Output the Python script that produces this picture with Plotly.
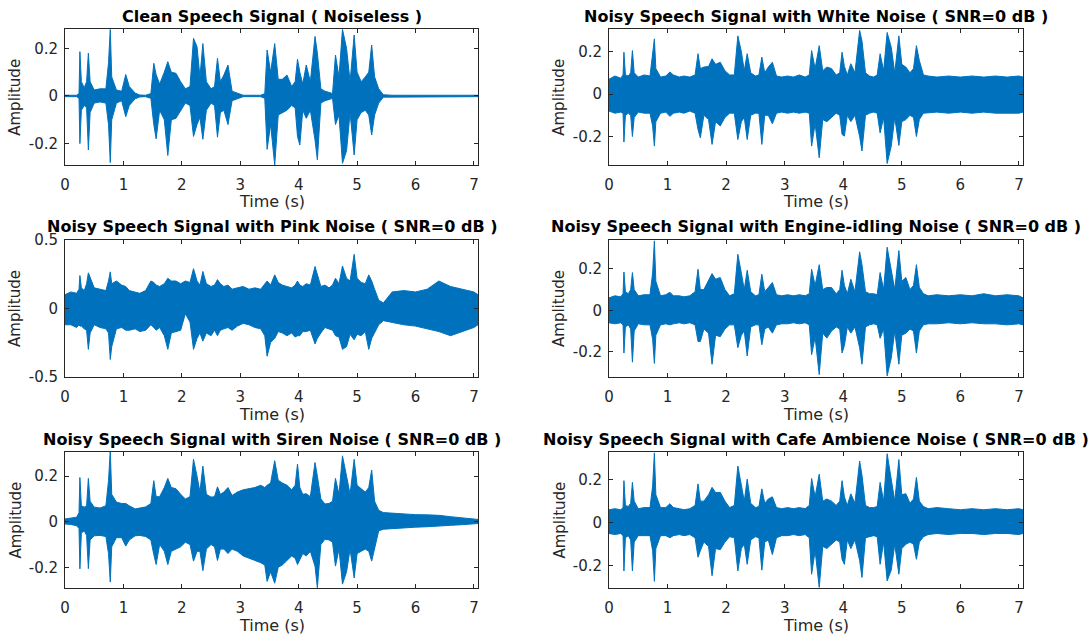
import plotly.graph_objects as go

# ---------------- data (envelopes) ----------------
time_s = [0.00, 0.10, 0.20, 0.24, 0.255, 0.28, 0.33, 0.37, 0.40, 0.43,
          0.50, 0.60, 0.70, 0.745, 0.775, 0.80, 0.88, 0.97, 1.04, 1.10,
          1.20, 1.28, 1.38, 1.47, 1.52, 1.56, 1.62, 1.70, 1.76, 1.82,
          1.90, 1.98, 2.06, 2.14, 2.20, 2.26, 2.31, 2.36, 2.42, 2.50,
          2.56, 2.61, 2.66, 2.72, 2.79, 2.86, 2.95, 3.05, 3.15, 3.25,
          3.35, 3.42, 3.46, 3.52, 3.59, 3.65, 3.72, 3.80, 3.88, 3.94,
          3.98, 4.02, 4.07, 4.13, 4.20, 4.28, 4.32, 4.38, 4.45, 4.52,
          4.58, 4.63, 4.69, 4.75, 4.82, 4.88, 4.95, 5.00, 5.07, 5.14,
          5.20, 5.25, 5.30, 5.37, 5.45, 5.60, 5.80, 6.00, 6.20, 6.40,
          6.60, 6.80, 7.00, 7.07]

clean_upper = [0.003, 0.003, 0.003, 0.01, 0.186, 0.06, 0.035, 0.06, 0.18, 0.06,
               0.025, 0.03, 0.03, 0.14, 0.28, 0.08, 0.025, 0.02, 0.09, 0.04,
               0.012, 0.004, 0.003, 0.01, 0.137, 0.09, 0.05, 0.10, 0.144, 0.10,
               0.095, 0.06, 0.03, 0.04, 0.242, 0.207, 0.08, 0.22, 0.06, 0.03,
               0.04, 0.158, 0.06, 0.088, 0.13, 0.02, 0.012, 0.003, 0.003, 0.003,
               0.003, 0.01, 0.193, 0.10, 0.22, 0.07, 0.07, 0.088, 0.04, 0.06,
               0.154, 0.10, 0.05, 0.13, 0.06, 0.25, 0.18, 0.03, 0.02, 0.015,
               0.01, 0.172, 0.08, 0.28, 0.20, 0.06, 0.256, 0.10, 0.06, 0.08,
               0.10, 0.214, 0.08, 0.03, 0.005, 0.003, 0.003, 0.003, 0.003, 0.003,
               0.003, 0.003, 0.003, 0.003]
clean_lower = [-0.003, -0.003, -0.003, -0.01, -0.20, -0.06, -0.04, -0.05, -0.227, -0.07,
               -0.03, -0.025, -0.03, -0.12, -0.28, -0.10, -0.03, -0.02, -0.087, -0.04,
               -0.012, -0.004, -0.003, -0.01, -0.12, -0.18, -0.06, -0.10, -0.25, -0.10,
               -0.094, -0.06, -0.03, -0.04, -0.17, -0.12, -0.09, -0.182, -0.06, -0.03,
               -0.04, -0.173, -0.07, -0.06, -0.12, -0.02, -0.012, -0.003, -0.003, -0.003,
               -0.003, -0.01, -0.224, -0.12, -0.29, -0.08, -0.07, -0.06, -0.04, -0.05,
               -0.17, -0.206, -0.06, -0.094, -0.06, -0.185, -0.268, -0.03, -0.02, -0.015,
               -0.01, -0.12, -0.08, -0.283, -0.23, -0.07, -0.248, -0.10, -0.07, -0.06,
               -0.08, -0.164, -0.08, -0.03, -0.005, -0.003, -0.003, -0.003, -0.003, -0.003,
               -0.003, -0.003, -0.003, -0.003]

white_upper = [0.07, 0.085, 0.075, 0.09, 0.197, 0.09, 0.085, 0.10, 0.205, 0.10,
               0.08, 0.09, 0.085, 0.18, 0.26, 0.12, 0.08, 0.085, 0.104, 0.09,
               0.08, 0.085, 0.08, 0.09, 0.19, 0.12, 0.127, 0.13, 0.166, 0.14,
               0.15, 0.11, 0.09, 0.09, 0.274, 0.20, 0.11, 0.19, 0.10, 0.085,
               0.09, 0.174, 0.10, 0.127, 0.15, 0.085, 0.08, 0.085, 0.08, 0.09,
               0.08, 0.09, 0.205, 0.12, 0.228, 0.11, 0.127, 0.12, 0.09, 0.10,
               0.197, 0.13, 0.09, 0.143, 0.10, 0.30, 0.25, 0.10, 0.085, 0.08,
               0.09, 0.19, 0.11, 0.29, 0.22, 0.10, 0.274, 0.14, 0.127, 0.10,
               0.12, 0.228, 0.158, 0.09, 0.085, 0.08, 0.085, 0.08, 0.085, 0.08,
               0.085, 0.08, 0.085, 0.08]
white_lower = [-0.08, -0.09, -0.085, -0.09, -0.226, -0.10, -0.09, -0.10, -0.20, -0.11,
               -0.085, -0.09, -0.09, -0.15, -0.245, -0.13, -0.09, -0.085, -0.105, -0.09,
               -0.085, -0.09, -0.08, -0.09, -0.167, -0.206, -0.10, -0.12, -0.237, -0.13,
               -0.15, -0.11, -0.09, -0.09, -0.214, -0.13, -0.11, -0.214, -0.10, -0.09,
               -0.09, -0.237, -0.10, -0.10, -0.14, -0.09, -0.085, -0.09, -0.085, -0.09,
               -0.085, -0.09, -0.245, -0.14, -0.30, -0.12, -0.13, -0.11, -0.09, -0.10,
               -0.19, -0.198, -0.10, -0.13, -0.10, -0.20, -0.268, -0.10, -0.09, -0.085,
               -0.09, -0.183, -0.11, -0.327, -0.245, -0.11, -0.242, -0.13, -0.12, -0.10,
               -0.11, -0.20, -0.12, -0.09, -0.09, -0.085, -0.09, -0.085, -0.09, -0.085,
               -0.09, -0.09, -0.09, -0.085]

pink_upper = [0.10, 0.12, 0.11, 0.14, 0.24, 0.15, 0.13, 0.18, 0.26, 0.23,
              0.15, 0.14, 0.13, 0.20, 0.267, 0.18, 0.20, 0.17, 0.16, 0.13,
              0.12, 0.11, 0.13, 0.20, 0.19, 0.17, 0.16, 0.18, 0.22, 0.20,
              0.20, 0.18, 0.20, 0.19, 0.29, 0.20, 0.17, 0.27, 0.18, 0.16,
              0.17, 0.21, 0.18, 0.16, 0.17, 0.14, 0.15, 0.16, 0.14, 0.15,
              0.14, 0.18, 0.20, 0.17, 0.245, 0.19, 0.17, 0.16, 0.15, 0.17,
              0.20, 0.17, 0.16, 0.18, 0.17, 0.306, 0.25, 0.16, 0.17, 0.15,
              0.17, 0.22, 0.18, 0.31, 0.22, 0.20, 0.395, 0.22, 0.19, 0.18,
              0.245, 0.20, 0.14, 0.06, 0.04, 0.12, 0.13, 0.12, 0.14, 0.20,
              0.16, 0.14, 0.12, 0.10]
pink_lower = [-0.12, -0.12, -0.14, -0.12, -0.13, -0.13, -0.15, -0.16, -0.30, -0.18,
              -0.12, -0.14, -0.15, -0.18, -0.374, -0.28, -0.15, -0.14, -0.16, -0.16,
              -0.15, -0.17, -0.16, -0.12, -0.14, -0.16, -0.14, -0.20, -0.30, -0.18,
              -0.17, -0.16, -0.04, -0.10, -0.30, -0.22, -0.18, -0.24, -0.18, -0.20,
              -0.16, -0.20, -0.16, -0.15, -0.14, -0.16, -0.13, -0.11, -0.12, -0.14,
              -0.15, -0.20, -0.35, -0.25, -0.22, -0.17, -0.18, -0.20, -0.18, -0.21,
              -0.20, -0.20, -0.17, -0.17, -0.16, -0.26, -0.22, -0.18, -0.14, -0.15,
              -0.16, -0.20, -0.21, -0.30, -0.28, -0.19, -0.23, -0.19, -0.20, -0.17,
              -0.30, -0.22, -0.18, -0.12, -0.09, -0.10, -0.12, -0.13, -0.15, -0.17,
              -0.20, -0.17, -0.14, -0.12]

engine_upper = [0.06, 0.07, 0.065, 0.08, 0.185, 0.09, 0.08, 0.10, 0.182, 0.10,
                0.07, 0.075, 0.075, 0.18, 0.335, 0.14, 0.07, 0.075, 0.087, 0.07,
                0.07, 0.065, 0.07, 0.09, 0.198, 0.10, 0.10, 0.14, 0.177, 0.15,
                0.158, 0.10, 0.07, 0.08, 0.27, 0.18, 0.10, 0.193, 0.09, 0.07,
                0.075, 0.174, 0.09, 0.11, 0.134, 0.075, 0.07, 0.075, 0.07, 0.075,
                0.07, 0.08, 0.198, 0.12, 0.22, 0.10, 0.11, 0.11, 0.08, 0.10,
                0.193, 0.12, 0.08, 0.15, 0.09, 0.282, 0.22, 0.09, 0.08, 0.08,
                0.075, 0.182, 0.10, 0.304, 0.20, 0.10, 0.288, 0.14, 0.158, 0.10,
                0.12, 0.22, 0.11, 0.08, 0.07, 0.075, 0.07, 0.075, 0.07, 0.08,
                0.07, 0.075, 0.07, 0.06]
engine_lower = [-0.06, -0.065, -0.06, -0.07, -0.206, -0.08, -0.07, -0.09, -0.25, -0.10,
                -0.065, -0.07, -0.07, -0.14, -0.256, -0.12, -0.07, -0.065, -0.07, -0.065,
                -0.06, -0.065, -0.06, -0.07, -0.15, -0.15, -0.09, -0.11, -0.26, -0.12,
                -0.127, -0.09, -0.07, -0.07, -0.18, -0.12, -0.10, -0.22, -0.08, -0.07,
                -0.07, -0.166, -0.09, -0.08, -0.11, -0.07, -0.065, -0.065, -0.06, -0.065,
                -0.06, -0.07, -0.214, -0.13, -0.31, -0.11, -0.134, -0.10, -0.08, -0.09,
                -0.206, -0.17, -0.08, -0.11, -0.08, -0.18, -0.26, -0.08, -0.07, -0.065,
                -0.07, -0.135, -0.09, -0.316, -0.23, -0.10, -0.26, -0.12, -0.11, -0.09,
                -0.10, -0.206, -0.10, -0.07, -0.065, -0.065, -0.06, -0.065, -0.06, -0.065,
                -0.065, -0.07, -0.065, -0.07]

siren_upper = [0.012, 0.015, 0.02, 0.04, 0.194, 0.07, 0.064, 0.07, 0.19, 0.09,
               0.064, 0.06, 0.07, 0.18, 0.313, 0.12, 0.086, 0.08, 0.08, 0.07,
               0.056, 0.06, 0.065, 0.08, 0.18, 0.11, 0.11, 0.15, 0.19, 0.15,
               0.145, 0.12, 0.10, 0.11, 0.274, 0.20, 0.13, 0.244, 0.12, 0.108,
               0.11, 0.153, 0.12, 0.13, 0.15, 0.115, 0.13, 0.14, 0.145, 0.15,
               0.16, 0.15, 0.16, 0.17, 0.268, 0.182, 0.17, 0.16, 0.14, 0.16,
               0.253, 0.15, 0.12, 0.123, 0.11, 0.26, 0.20, 0.10, 0.078, 0.08,
               0.09, 0.19, 0.12, 0.289, 0.20, 0.12, 0.274, 0.16, 0.145, 0.13,
               0.15, 0.227, 0.09, 0.05, 0.04, 0.037, 0.035, 0.031, 0.03, 0.028,
               0.022, 0.018, 0.012, 0.01]
siren_lower = [-0.01, -0.012, -0.018, -0.03, -0.207, -0.05, -0.04, -0.06, -0.206, -0.08,
               -0.062, -0.06, -0.065, -0.14, -0.265, -0.11, -0.07, -0.07, -0.107, -0.08,
               -0.062, -0.06, -0.065, -0.08, -0.144, -0.188, -0.10, -0.13, -0.188, -0.13,
               -0.12, -0.11, -0.09, -0.10, -0.173, -0.13, -0.13, -0.215, -0.12, -0.10,
               -0.11, -0.17, -0.12, -0.12, -0.14, -0.12, -0.13, -0.15, -0.16, -0.17,
               -0.18, -0.19, -0.262, -0.22, -0.27, -0.20, -0.19, -0.17, -0.15, -0.16,
               -0.188, -0.17, -0.14, -0.15, -0.13, -0.195, -0.29, -0.10, -0.077, -0.08,
               -0.09, -0.195, -0.12, -0.274, -0.22, -0.12, -0.247, -0.14, -0.13, -0.12,
               -0.13, -0.173, -0.11, -0.04, -0.033, -0.028, -0.027, -0.024, -0.022, -0.02,
               -0.016, -0.013, -0.01, -0.008]

cafe_upper = [0.06, 0.065, 0.06, 0.07, 0.195, 0.08, 0.075, 0.09, 0.187, 0.10,
              0.065, 0.07, 0.07, 0.17, 0.324, 0.13, 0.07, 0.07, 0.088, 0.07,
              0.065, 0.06, 0.065, 0.08, 0.18, 0.10, 0.10, 0.13, 0.164, 0.14,
              0.141, 0.10, 0.07, 0.08, 0.263, 0.17, 0.10, 0.202, 0.09, 0.07,
              0.075, 0.157, 0.09, 0.11, 0.12, 0.07, 0.065, 0.07, 0.065, 0.07,
              0.065, 0.08, 0.205, 0.12, 0.225, 0.10, 0.11, 0.10, 0.08, 0.10,
              0.195, 0.12, 0.08, 0.134, 0.09, 0.286, 0.22, 0.08, 0.07, 0.07,
              0.075, 0.187, 0.10, 0.32, 0.20, 0.10, 0.293, 0.13, 0.134, 0.09,
              0.11, 0.21, 0.10, 0.075, 0.065, 0.07, 0.065, 0.06, 0.065, 0.06,
              0.065, 0.06, 0.065, 0.06]
cafe_lower = [-0.05, -0.055, -0.05, -0.06, -0.224, -0.07, -0.06, -0.08, -0.224, -0.09,
              -0.06, -0.06, -0.06, -0.13, -0.272, -0.12, -0.06, -0.06, -0.07, -0.06,
              -0.055, -0.06, -0.055, -0.07, -0.16, -0.13, -0.09, -0.11, -0.246, -0.12,
              -0.125, -0.09, -0.065, -0.07, -0.224, -0.12, -0.10, -0.193, -0.08, -0.065,
              -0.07, -0.22, -0.09, -0.08, -0.148, -0.07, -0.06, -0.06, -0.055, -0.06,
              -0.055, -0.07, -0.239, -0.13, -0.30, -0.11, -0.12, -0.10, -0.08, -0.09,
              -0.17, -0.193, -0.08, -0.12, -0.08, -0.175, -0.254, -0.07, -0.065, -0.06,
              -0.065, -0.193, -0.09, -0.27, -0.22, -0.10, -0.239, -0.12, -0.10, -0.09,
              -0.10, -0.17, -0.09, -0.065, -0.055, -0.05, -0.055, -0.05, -0.05, -0.055,
              -0.05, -0.05, -0.055, -0.05]

titles = ["Clean Speech Signal ( Noiseless )",
          "Noisy Speech Signal with White Noise ( SNR=0 dB )",
          "Noisy Speech Signal with Pink Noise ( SNR=0 dB )",
          "Noisy Speech Signal with Engine-idling Noise ( SNR=0 dB )",
          "Noisy Speech Signal with Siren Noise ( SNR=0 dB )",
          "Noisy Speech Signal with Cafe Ambience Noise ( SNR=0 dB )"]
x_ticks = [0, 1, 2, 3, 4, 5, 6, 7]
y_ticks_small = [-0.2, 0, 0.2]
y_ticks_small_text = ["-0.2", "0", "0.2"]
y_ticks_large = [-0.5, 0, 0.5]
y_ticks_large_text = ["-0.5", "0", "0.5"]

# ---------------- layout ----------------
W, H = 1089, 640
BLUE = "#0072BD"
AX = "#262626"
FONT = "DejaVu Sans"

signals = [(clean_upper, clean_lower), (white_upper, white_lower),
           (pink_upper, pink_lower), (engine_upper, engine_lower),
           (siren_upper, siren_lower), (cafe_upper, cafe_lower)]
y_ranges = [[-0.29, 0.28], [-0.334, 0.305], [-0.5, 0.5],
            [-0.32, 0.339], [-0.291, 0.306], [-0.303, 0.328]]

col_px = [(65, 478), (609, 1023)]
row_px = [(29.3, 165), (240, 376.7), (452, 588)]
title_px = [16, 226.7, 439]
xlabel_px = [201.7, 414, 625]
ylabel_off = 49.4

fig = go.Figure()
annotations = []
for i, (up, lo) in enumerate(signals):
    r, c = divmod(i, 2)
    n = i + 1
    xa = "x" if n == 1 else f"x{n}"
    ya = "y" if n == 1 else f"y{n}"
    fig.add_trace(go.Scatter(
        x=time_s + time_s[::-1], y=up + lo[::-1],
        fill="toself", fillcolor=BLUE, mode="lines",
        line=dict(color=BLUE, width=1), xaxis=xa, yaxis=ya,
        showlegend=False, hoverinfo="skip"))
    x0, x1 = col_px[c]
    t0, t1 = row_px[r]
    xd = [x0 / W, x1 / W]
    yd = [1 - t1 / H, 1 - t0 / H]
    if i == 2:
        yt, ytt = y_ticks_large, y_ticks_large_text
    else:
        yt, ytt = y_ticks_small, y_ticks_small_text
    common = dict(showline=True, linecolor=AX, linewidth=1, mirror="ticks",
                  ticks="inside", ticklen=4, tickcolor=AX, tickwidth=1,
                  showgrid=False, zeroline=False, automargin=False,
                  tickfont=dict(family=FONT, size=15, color=AX))
    fig.layout[("xaxis" if n == 1 else f"xaxis{n}")] = dict(
        domain=xd, range=[0, 7.07], anchor=ya, tickvals=x_ticks,
        ticktext=[str(v) for v in x_ticks], ticklabelstandoff=6, **common)
    fig.layout[("yaxis" if n == 1 else f"yaxis{n}")] = dict(
        domain=yd, range=y_ranges[i], anchor=xa, tickvals=yt, ticktext=ytt,
        ticklabelstandoff=3, **common)
    xc = (x0 + x1) / 2 / W
    annotations.append(dict(text=f"<b>{titles[i]}</b>", x=xc, y=1 - title_px[r] / H,
                            xref="paper", yref="paper", showarrow=False,
                            xanchor="center", yanchor="middle",
                            font=dict(family=FONT, size=16, color="black")))
    annotations.append(dict(text="Time (s)", x=xc, y=1 - xlabel_px[r] / H,
                            xref="paper", yref="paper", showarrow=False,
                            xanchor="center", yanchor="middle",
                            font=dict(family=FONT, size=16, color=AX)))
    annotations.append(dict(text="Amplitude", x=(x0 - ylabel_off) / W,
                            y=1 - (t0 + t1) / 2 / H, xref="paper", yref="paper",
                            showarrow=False, textangle=-90,
                            xanchor="center", yanchor="middle",
                            font=dict(family=FONT, size=15, color=AX)))

fig.update_layout(width=W, height=H, autosize=False,
                  margin=dict(l=0, r=0, t=0, b=0, pad=0, autoexpand=False),
                  paper_bgcolor="white", plot_bgcolor="white",
                  annotations=annotations)
fig.write_html("out.html")
